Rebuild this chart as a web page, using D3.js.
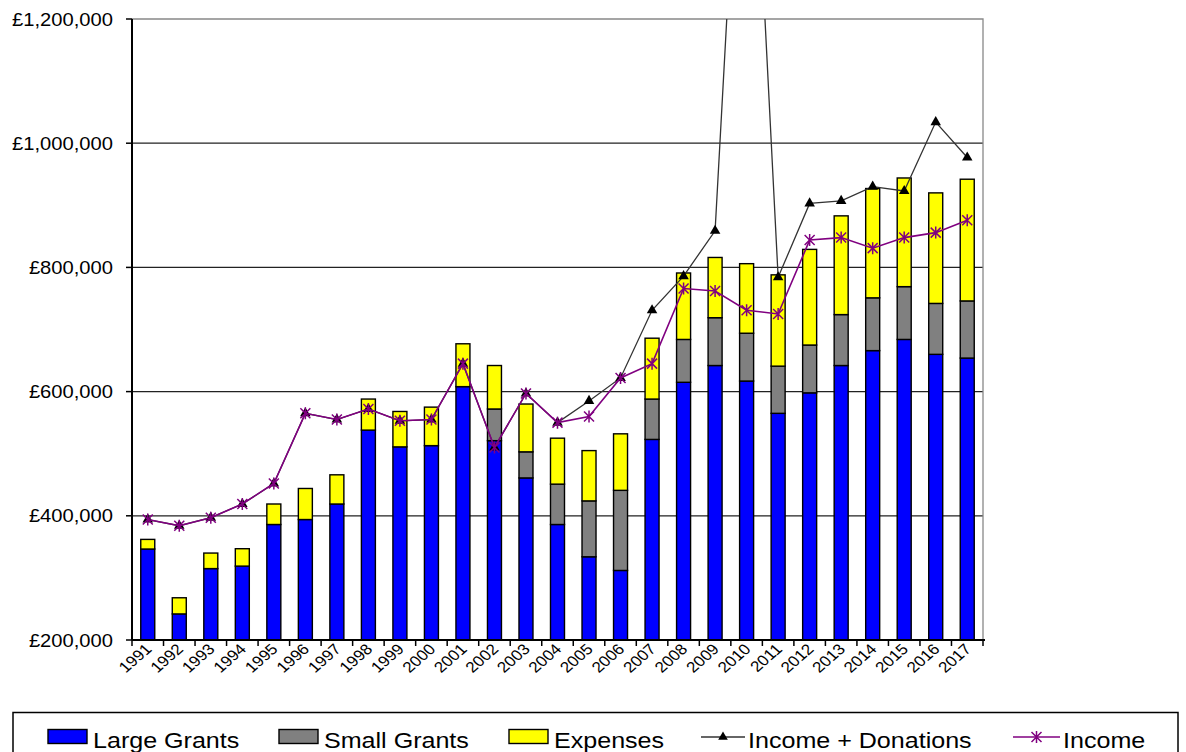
<!DOCTYPE html>
<html>
<head>
<meta charset="utf-8">
<script src="https://cdn.jsdelivr.net/npm/d3@7"></script>
<style>
  body { margin: 0; background: #fff; }
  text { font-family: "Liberation Sans", Arial, sans-serif; fill: #000; }
</style>
</head>
<body>
<script>
// values
const years = ["1991","1992","1993","1994","1995","1996","1997","1998","1999","2000",
  "2001","2002","2003","2004","2005","2006","2007","2008","2009","2010",
  "2011","2012","2013","2014","2015","2016","2017"];
const largeGrants = [346500,242000,315000,319000,386000,394000,419000,538000,511000,513000,
  608000,521000,461000,386000,334000,312000,523000,615000,642000,617000,
  565000,598000,642000,666000,684000,660000,654000];
const smallGrants = [0,0,0,0,0,0,0,0,0,0,
  0,51000,42000,65000,90000,129000,65000,69000,77000,77000,
  76000,77000,82000,85000,85000,82000,92000];
const expenses = [15500,26000,25000,28000,33000,50000,47000,50000,57000,62000,
  69000,70000,77000,74000,81000,91000,98000,107000,97000,112000,
  147000,154000,159000,176000,175000,178000,196000];
const incomeDonations = [394000,384000,397000,419000,452000,565000,555000,572000,553000,555000,
  645000,510000,597000,550000,585000,622000,731000,786000,859000,1780000,
  784000,903000,907000,930000,923000,1034000,977000];
const income = [394000,384000,397000,419000,452000,565000,555000,572000,553000,555000,
  645000,510000,597000,550000,560000,622000,645000,766000,762000,731000,
  725000,844000,848000,831000,848000,856000,876000];
const yTicks = [200000,400000,600000,800000,1000000,1200000];

const width = 1186, height = 752;
const pL = 132, pR = 983, pT = 19, pB = 640;
const sx = 1.14; // the original text is a little stretched sideways

const svg = d3.select("body").append("svg")
    .attr("width", width)
    .attr("height", height);

const x = d3.scaleBand().domain(years).range([pL, pR]);
const y = d3.scaleLinear().domain([200000, 1200000]).range([pB, pT]);
const fmt = d => "£" + d3.format(",")(d);

// gridlines
svg.append("g")
  .selectAll("line")
  .data(yTicks.slice(1, -1))
  .join("line")
    .attr("x1", pL).attr("x2", pR)
    .attr("y1", d => y(d)).attr("y2", d => y(d))
    .attr("stroke", "#222").attr("stroke-width", 1.3);

// grey frame top + right
svg.append("path")
  .attr("d", `M${pL},${pT}H${pR}V${pB}`)
  .attr("fill", "none").attr("stroke", "#888").attr("stroke-width", 1.3);

// stacked bars
const rows = years.map((yr, i) => ({
  year: yr,
  parts: [
    {y0: 200000, y1: largeGrants[i], fill: "#0000ff"},
    {y0: largeGrants[i], y1: largeGrants[i] + smallGrants[i], fill: "#808080"},
    {y0: largeGrants[i] + smallGrants[i], y1: largeGrants[i] + smallGrants[i] + expenses[i], fill: "#ffff00"}
  ].filter(p => p.y1 > p.y0)
}));
const barW = 14;
svg.append("g")
  .selectAll("g")
  .data(rows)
  .join("g")
    .attr("transform", d => `translate(${x(d.year) + x.bandwidth() / 2 - barW / 2},0)`)
  .selectAll("rect")
  .data(d => d.parts)
  .join("rect")
    .attr("x", 0)
    .attr("width", barW)
    .attr("y", d => y(d.y1))
    .attr("height", d => y(d.y0) - y(d.y1))
    .attr("fill", d => d.fill)
    .attr("stroke", "#000")
    .attr("stroke-width", 1.4);

// y axis
const yAxis = svg.append("g").attr("transform", `translate(${pL},0)`);
yAxis.append("line").attr("y1", pT).attr("y2", pB).attr("stroke", "#000").attr("stroke-width", 2);
yAxis.selectAll("line.tk").data(yTicks).join("line").attr("class", "tk")
    .attr("x1", -6).attr("x2", 0).attr("y1", d => y(d)).attr("y2", d => y(d))
    .attr("stroke", "#000").attr("stroke-width", 1.5);
yAxis.selectAll("text").data(yTicks).join("text")
    .attr("transform", d => `translate(-19,${y(d) + 6.5}) scale(${sx},1)`)
    .attr("text-anchor", "end")
    .style("font-size", "17.7px")
    .text(fmt);

// x axis
const xAxis = svg.append("g").attr("transform", `translate(0,${pB})`);
xAxis.append("line").attr("x1", pL).attr("x2", pR + 2).attr("stroke", "#000").attr("stroke-width", 2);
xAxis.selectAll("line.tk").data(years.map(d => x(d)).concat([pR])).join("line").attr("class", "tk")
    .attr("x1", d => d).attr("x2", d => d).attr("y1", 0).attr("y2", 6)
    .attr("stroke", "#000").attr("stroke-width", 1.5);
xAxis.selectAll("text").data(years).join("text")
    .attr("transform", d => `translate(${x(d) + x.bandwidth() / 2 + 5},10) scale(${sx},1) rotate(-45)`)
    .attr("text-anchor", "end")
    .style("font-size", "15px")
    .text(d => d);

// lines
const cx = d => x(d) + x.bandwidth() / 2;
svg.append("clipPath").attr("id", "plot")
  .append("rect").attr("x", pL).attr("y", pT).attr("width", pR - pL).attr("height", pB - pT);

const lineGen = d3.line().x(d => cx(d.year)).y(d => y(d.v));
const donData = years.map((yr, i) => ({year: yr, v: incomeDonations[i]}));
const incData = years.map((yr, i) => ({year: yr, v: income[i]}));

const lines = svg.append("g").attr("clip-path", "url(#plot)");
lines.append("path").datum(donData)
    .attr("d", lineGen).attr("fill", "none").attr("stroke", "#333").attr("stroke-width", 1.3);
lines.selectAll("path.tri").data(donData).join("path").attr("class", "tri")
    .attr("d", d3.symbol(d3.symbolTriangle, 48))
    .attr("transform", d => `translate(${cx(d.year)},${y(d.v)})`)
    .attr("fill", "#000");

lines.append("path").datum(incData)
    .attr("d", lineGen).attr("fill", "none").attr("stroke", "#800080").attr("stroke-width", 1.6);
const star = "M-5,-5L5,5M-5,5L5,-5M0,-6V6";
lines.selectAll("path.star").data(incData).join("path").attr("class", "star")
    .attr("d", star)
    .attr("transform", d => `translate(${cx(d.year)},${y(d.v)})`)
    .attr("fill", "none").attr("stroke", "#800080").attr("stroke-width", 1.5);

// legend
const legend = svg.append("g");
legend.append("rect")
    .attr("x", 13).attr("y", 712.5).attr("width", 1165).attr("height", 60)
    .attr("fill", "#fff").attr("stroke", "#000").attr("stroke-width", 1.5);

const boxItems = [
  {name: "Large Grants", fill: "#0000ff", sx0: 48, tx: 93},
  {name: "Small Grants", fill: "#808080", sx0: 279, tx: 324},
  {name: "Expenses", fill: "#ffff00", sx0: 509, tx: 554}
];
legend.selectAll("rect.sw").data(boxItems).join("rect").attr("class", "sw")
    .attr("x", d => d.sx0).attr("y", 729.5).attr("width", 39).attr("height", 14)
    .attr("fill", d => d.fill).attr("stroke", "#000").attr("stroke-width", 1.4);

const lineItems = [
  {name: "Income + Donations", color: "#333", x0: 701, x1: 745, tx: 748},
  {name: "Income", color: "#800080", x0: 1013, x1: 1060, tx: 1063}
];
legend.selectAll("line.ln").data(lineItems).join("line").attr("class", "ln")
    .attr("x1", d => d.x0).attr("x2", d => d.x1).attr("y1", 737).attr("y2", 737)
    .attr("stroke", d => d.color).attr("stroke-width", 1.5);
legend.append("path")
    .attr("d", d3.symbol(d3.symbolTriangle, 40))
    .attr("transform", "translate(723,737)").attr("fill", "#000");
legend.append("path")
    .attr("d", star).attr("transform", "translate(1036.5,737)")
    .attr("fill", "none").attr("stroke", "#800080").attr("stroke-width", 1.5);

legend.selectAll("text").data(boxItems.concat(lineItems)).join("text")
    .attr("transform", d => `translate(${d.tx},747.5) scale(${sx},1)`)
    .style("font-size", "22px")
    .text(d => d.name);
</script>
</body>
</html>
